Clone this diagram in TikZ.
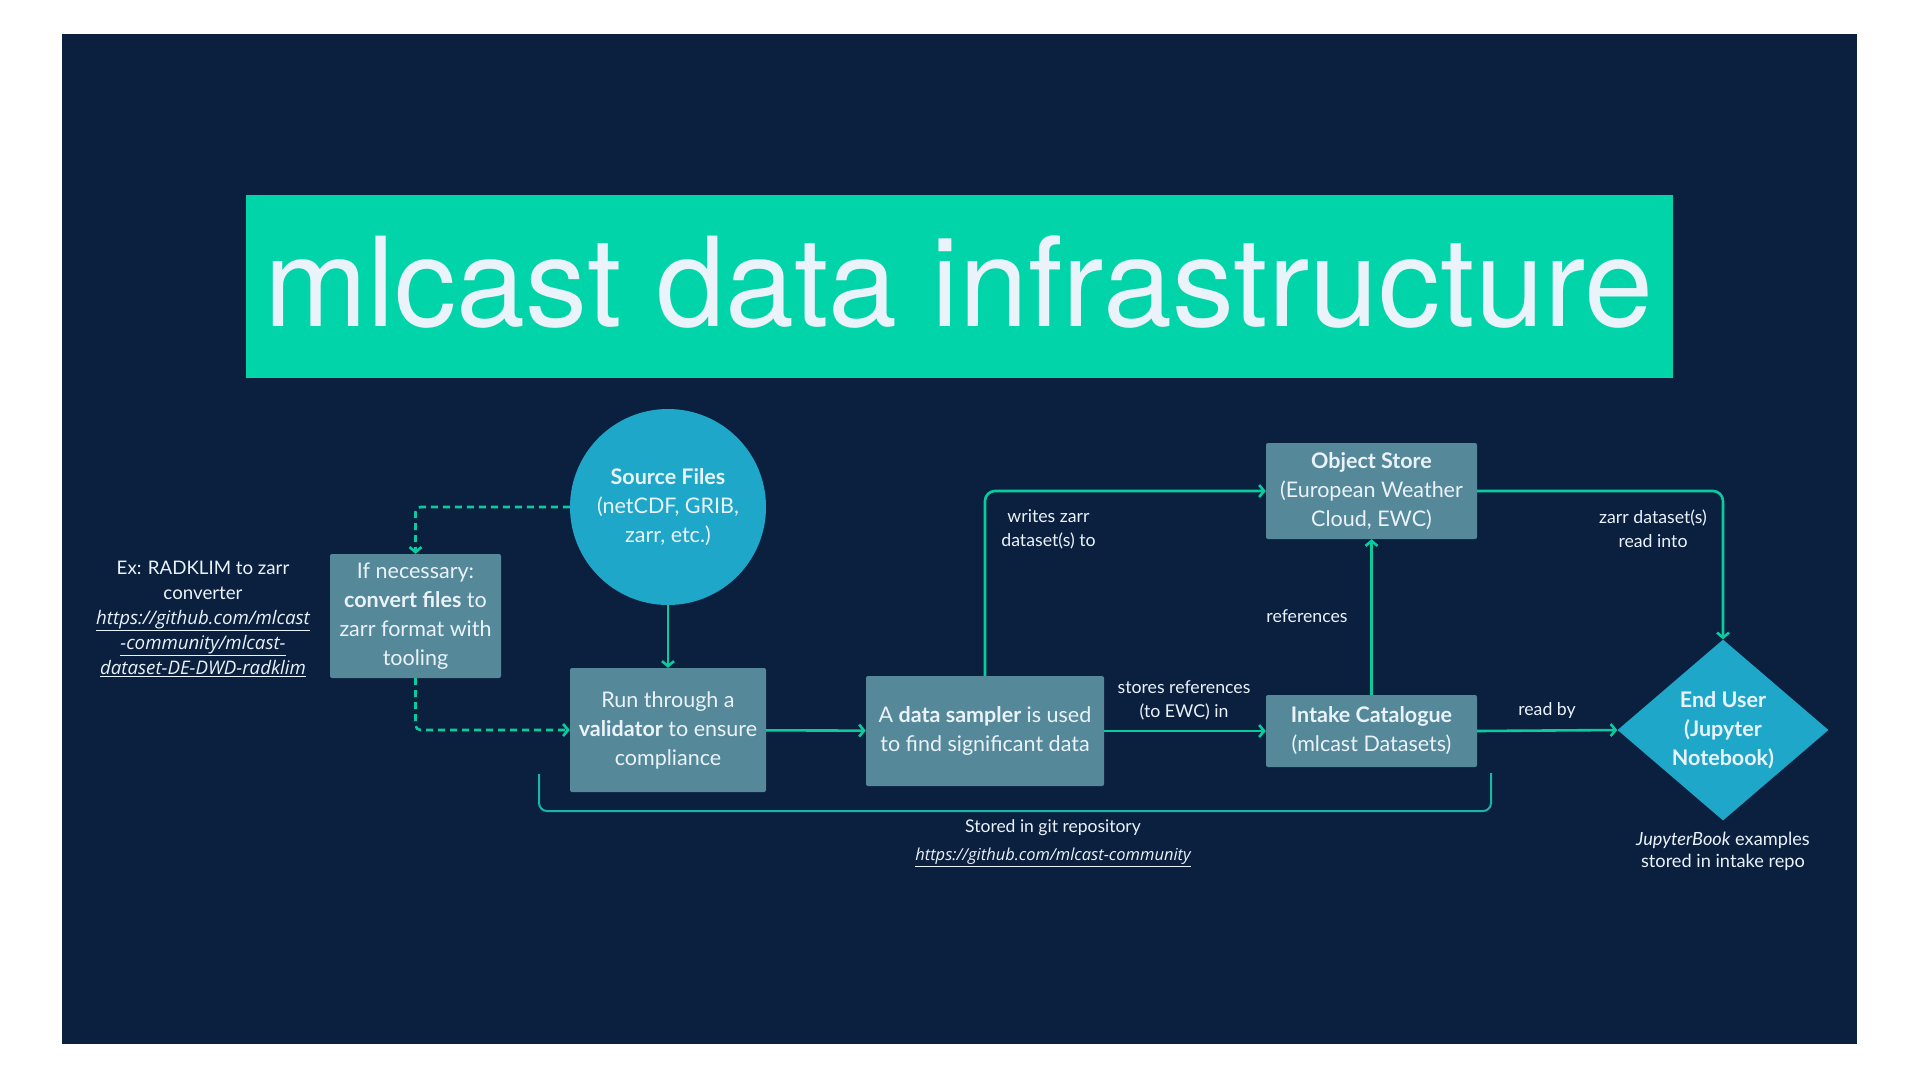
\documentclass[tikz,border=0pt]{standalone}
\usepackage{fontspec}
\setmainfont{Lato}
\newfontfamily\titlefont{TeX Gyre Heros}
\newfontfamily\linkfont{Open Sans}
\usetikzlibrary{arrows.meta,shapes.geometric}
\definecolor{navy}{HTML}{0B1F3F}
\definecolor{mint}{HTML}{02D4AA}
\definecolor{steel}{HTML}{558899}
\definecolor{sky}{HTML}{1EA7C9}
\definecolor{flow}{HTML}{08CC9F}
\definecolor{gitline}{HTML}{16B8A2}
\definecolor{paper}{HTML}{EAF3FA}
\newcommand{\weblink}[1]{\underline{\linkfont\itshape #1}}
\begin{document}
\begin{tikzpicture}[x=1pt, y=-1pt,
		procbox/.style={fill=steel, rounded corners=2pt, text=paper, align=center, inner sep=0pt, font=\fontsize{21.5}{29}\selectfont},
		bluenode/.style={fill=sky, text=paper, align=center, inner sep=0pt, font=\fontsize{21.5}{29}\selectfont\bfseries},
		flowline/.style={draw=flow, line width=2.6pt, rounded corners=10pt, -{Straight Barb[length=5pt,width=12pt]}},
		dashline/.style={flowline, rounded corners=5pt, dash pattern=on 7pt off 5pt},
		note/.style={text=paper, align=center, inner sep=0pt, font=\fontsize{17.7}{24}\selectfont},
		aside/.style={text=paper, align=center, inner sep=0pt, font=\fontsize{18.7}{25}\selectfont}]
		\useasboundingbox (0, 0) rectangle (1920, 1080);
		\fill[white] (0, 0) rectangle (1920, 1080);
		\fill[navy] (62, 34) rectangle (1857, 1044);

		\node[fill=mint, minimum width=1427, minimum height=183, inner sep=0pt] (titlebar) at (959.5, 286.5) {};
		\node[anchor=base, inner sep=0pt, text=paper, font=\titlefont\fontsize{124}{130}\selectfont] (title) at (958.5, 326) {mlcast data infrastructure};

		\node[bluenode, circle, minimum size=196] (src) at (668, 507) {Source Files\\\mdseries(netCDF, GRIB,\\\mdseries zarr, etc.)};
		\node[procbox, minimum width=171, minimum height=124] (conv) at (415.5, 616) {If necessary:\\\textbf{convert files} to\\zarr format with\\tooling};
		\node[procbox, minimum width=196, minimum height=124] (valid) at (668, 730) {Run through a\\\textbf{validator} to ensure\\compliance};
		\node[procbox, minimum width=238, minimum height=110] (sampler) at (985, 731) {A \textbf{data sampler} is used\\to find significant data};
		\node[procbox, minimum width=211, minimum height=96] (store) at (1371.5, 491) {\textbf{Object Store}\\(European Weather\\Cloud, EWC)};
		\node[procbox, minimum width=211, minimum height=72] (intake) at (1371.5, 731) {\textbf{Intake Catalogue}\\(mlcast Datasets)};
		\node[bluenode, diamond, minimum width=211, minimum height=181] (user) at (1723, 730) {End User\\(Jupyter\\Notebook)};

		\node[aside] (radklim) at (203, 619) {Ex: RADKLIM to zarr\\converter\\\weblink{https://github.com/mlcast}\\\weblink{-community/mlcast-}\\\weblink{dataset-DE-DWD-radklim}};
		\node[aside, font=\fontsize{18.2}{21.7}\selectfont] (booknote) at (1723, 851) {\textit{JupyterBook} examples\\stored in intake repo};
		\node[aside, font=\fontsize{17.5}{28}\selectfont] (gitnote) at (1053, 843) {Stored in git repository\\{\fontsize{16.5}{28}\selectfont\weblink{https://github.com/mlcast-community}}};

		\draw[flowline] (src) -- (valid);
		\draw[dashline] (src.west) -| (conv.north);
		\draw[dashline] (conv.south) |- (valid.west);
		\draw[flowline] (valid) -- (sampler);
		\draw[flowline] (sampler.north) |- (store.west);
		\draw[flowline] (sampler) -- (intake);
		\draw[flowline] (intake) -- (store);
		\draw[flowline] (store.east) -| (user.north);
		\draw[flowline] (intake.east) -- (user.west);

		\node[note] (writeslbl) at (1048.5, 529) {writes zarr\\dataset(s) to};
		\node[note] (storeslbl) at (1184, 700) {stores references\\(to EWC) in};
		\node[note] (refslbl) at (1307, 616) {references};
		\node[note] (readintolbl) at (1653, 529) {zarr dataset(s)\\read into};
		\node[note] (readbylbl) at (1547, 710) {read by};

		\coordinate (gitleft) at (539, 774);
		\coordinate (gitright) at (1491, 773);
		\draw[gitline, line width=2pt, rounded corners=8pt] (gitleft) |- (1015, 811) -| (gitright);
	\end{tikzpicture}
\end{document}
